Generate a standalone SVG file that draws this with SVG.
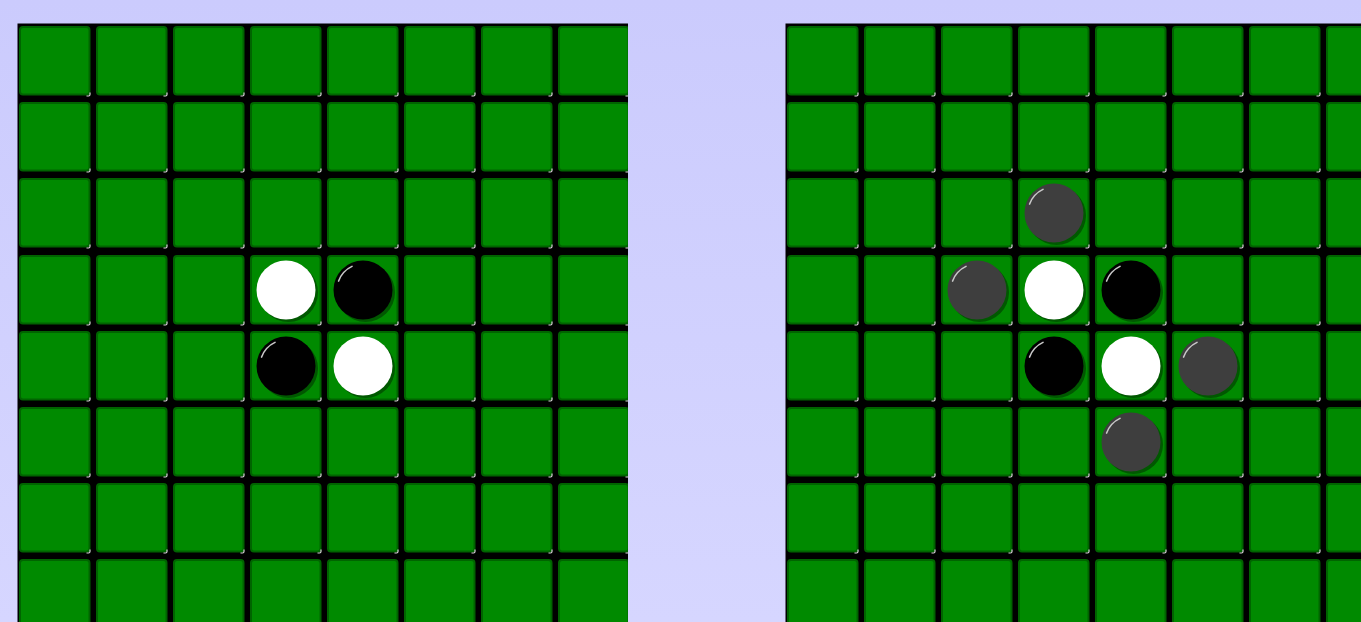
<svg xmlns="http://www.w3.org/2000/svg" xmlns:xlink="http://www.w3.org/1999/xlink" width="1361" height="622" viewBox="0 0 1361 622">
<style>
.cellbg{fill:#008a00;stroke:#006400;stroke-width:2}
.mark{fill:none;stroke:#d8d8d8;stroke-width:1.2}
.shadow{fill:#005800}
.hl{fill:none;stroke:#c8c8c8;stroke-width:1.6;stroke-linecap:round}
</style>
<defs>
<linearGradient id="bg" x1="0" y1="0" x2="0" y2="1">
<stop offset="0" stop-color="#cbcbfd"/>
<stop offset="1" stop-color="#d6d6ff"/>
</linearGradient>
<clipPath id="clipL"><rect x="0" y="0" width="628" height="622"/></clipPath>
<g id="cell">
<rect class="cellbg" x="1" y="1" width="69.5" height="67.5" rx="3"/>
<path class="mark" d="M67.5 70 H69.5 A1.5 1.5 0 0 0 71 68.5 V66.5"/>
</g>
<g id="row">
<use xlink:href="#cell" x="0"/>
<use xlink:href="#cell" x="77"/>
<use xlink:href="#cell" x="154"/>
<use xlink:href="#cell" x="231"/>
<use xlink:href="#cell" x="308"/>
<use xlink:href="#cell" x="385"/>
<use xlink:href="#cell" x="462"/>
<use xlink:href="#cell" x="539"/>
</g>
<g id="grid">
<use xlink:href="#row" y="0"/>
<use xlink:href="#row" y="76"/>
<use xlink:href="#row" y="152"/>
<use xlink:href="#row" y="229"/>
<use xlink:href="#row" y="305"/>
<use xlink:href="#row" y="381"/>
<use xlink:href="#row" y="457"/>
<use xlink:href="#row" y="533"/>
</g>
<g id="white">
<circle class="shadow" cx="2.5" cy="2.5" r="29.5"/>
<circle cx="0" cy="0" r="29.5" fill="#ffffff"/>
</g>
<g id="black">
<circle class="shadow" cx="2.5" cy="2.5" r="29.5"/>
<circle cx="0" cy="0" r="29.5" fill="#000000"/>
<path class="hl" d="M-24.4 -8.9 A26 26 0 0 1 -11 -23.6"/>
</g>
<g id="gray">
<circle class="shadow" cx="2.5" cy="2.5" r="29.5"/>
<circle cx="0" cy="0" r="29.5" fill="#3e3e3e"/>
<path class="hl" d="M-24.4 -8.9 A26 26 0 0 1 -11 -23.6"/>
</g>
</defs>
<rect x="0" y="0" width="1361" height="622" fill="url(#bg)"/>
<g id="board-left" clip-path="url(#clipL)">
<rect x="17.5" y="23.5" width="620" height="610" fill="#000000"/>
<use xlink:href="#grid" x="19" y="26"/>
<use xlink:href="#white" x="286" y="290"/>
<use xlink:href="#black" x="363" y="290"/>
<use xlink:href="#black" x="286" y="366"/>
<use xlink:href="#white" x="363" y="366"/>
</g>
<g id="board-right">
<rect x="785.5" y="23.5" width="600" height="610" fill="#000000"/>
<use xlink:href="#grid" x="787" y="26"/>
<use xlink:href="#gray" x="1054" y="213"/>
<use xlink:href="#gray" x="977" y="290"/>
<use xlink:href="#white" x="1054" y="290"/>
<use xlink:href="#black" x="1131" y="290"/>
<use xlink:href="#black" x="1054" y="366"/>
<use xlink:href="#white" x="1131" y="366"/>
<use xlink:href="#gray" x="1208" y="366"/>
<use xlink:href="#gray" x="1131" y="442"/>
</g>
</svg>
